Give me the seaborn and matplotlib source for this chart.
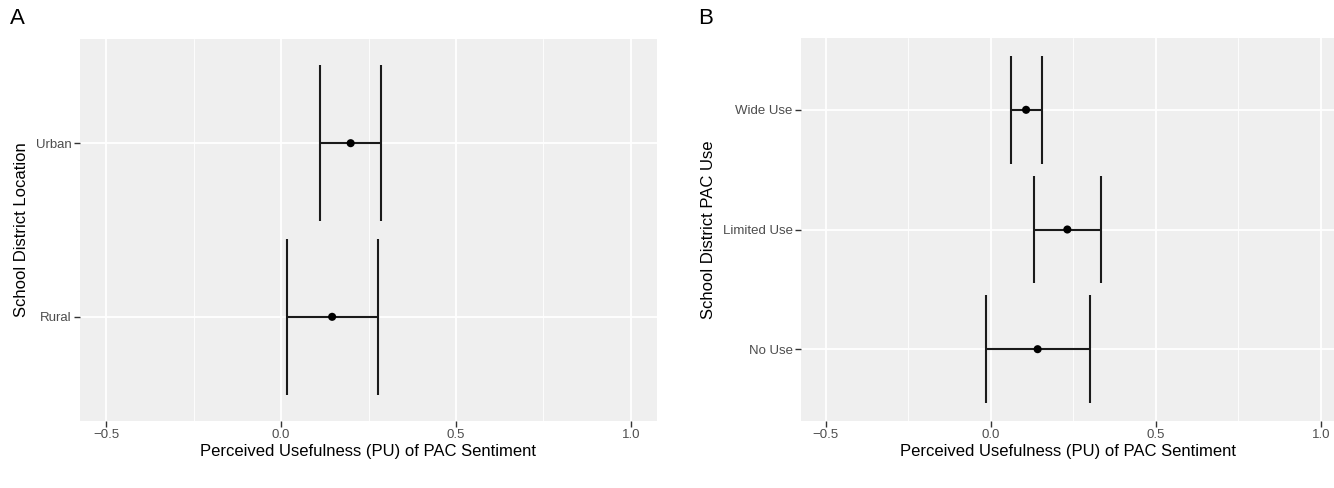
import numpy as np
import matplotlib
matplotlib.use("Agg")
import matplotlib.pyplot as plt
import seaborn as sns

# ---- data ----
loc_cats = ["Rural", "Urban"]
loc_est = [0.146, 0.199]
loc_lo = [0.017, 0.110]
loc_hi = [0.276, 0.287]

use_cats = ["No Use", "Limited Use", "Wide Use"]
use_est = [0.142, 0.232, 0.107]
use_lo = [-0.013, 0.131, 0.061]
use_hi = [0.300, 0.333, 0.155]

x_ticks = [-0.5, 0.0, 0.5, 1.0]
x_label = "Perceived Usefulness (PU) of PAC Sentiment"

sns.set_theme(style="darkgrid")
plt.rcParams["font.family"] = ["Liberation Sans", "DejaVu Sans"]

W, H = 1334, 488
fig = plt.figure(figsize=(W / 100, H / 100), dpi=100)

BG = "#EFEFEF"
LINE = "#1a1a1a"


def panel(rect, cats, est, lo, hi, ylabel, letter, letter_xy, xlim):
    ax = fig.add_axes(rect)
    ax.set_facecolor(BG)
    pos = np.arange(len(cats))
    est = np.asarray(est)
    ax.hlines(pos, lo, hi, color=LINE, lw=1.5, zorder=3)
    ax.vlines(lo, pos - 0.45, pos + 0.45, color=LINE, lw=1.5, zorder=3)
    ax.vlines(hi, pos - 0.45, pos + 0.45, color=LINE, lw=1.5, zorder=3)
    sns.scatterplot(x=est, y=pos, ax=ax, color="black", s=34, edgecolor="none",
                    zorder=4, legend=False)
    ax.set_xlim(*xlim)
    ax.set_ylim(-0.6, len(cats) - 0.4)
    ax.set_xticks(x_ticks)
    ax.set_xticklabels([f"{t:.1f}".replace("-", "\u2212") for t in x_ticks])
    ax.set_xticks([-0.25, 0.25, 0.75], minor=True)
    ax.set_yticks(pos)
    ax.set_yticklabels(cats)
    ax.grid(which="major", color="white", lw=1.3)
    ax.grid(which="minor", axis="x", color="white", lw=0.6)
    ax.grid(which="minor", axis="y", visible=False)
    for s in ax.spines.values():
        s.set_visible(False)
    ax.tick_params(axis="both", which="major", length=4, width=1.0,
                   color="#333333", labelcolor="#4D4D4D", labelsize=9.5, pad=2,
                   bottom=True, left=True)
    ax.tick_params(axis="both", which="minor", length=0)
    ax.set_xlabel(x_label, fontsize=12, color="black", labelpad=2)
    ax.set_ylabel(ylabel, fontsize=12, color="black", labelpad=5)
    fig.text(letter_xy[0] / W, 1 - letter_xy[1] / H, letter, fontsize=16,
             ha="left", va="center", color="black")
    return ax


axA = panel([80 / W, 67 / H, 577 / W, 382 / H], loc_cats, loc_est, loc_lo, loc_hi,
            "School District Location", "A", (10, 18), (-0.575, 1.075))
axB = panel([801 / W, 67 / H, 533 / W, 383 / H], use_cats, use_est, use_lo, use_hi,
            "School District PAC Use", "B", (698, 18), (-0.575, 1.04))

fig.savefig("out.png", dpi=100)
